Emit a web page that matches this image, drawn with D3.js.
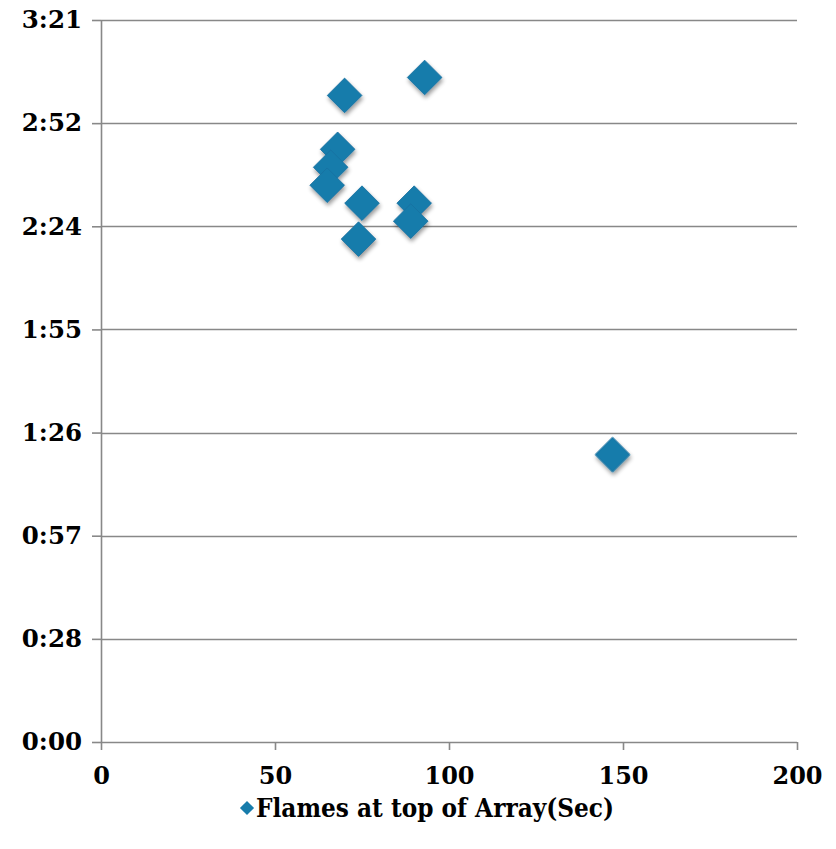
<!DOCTYPE html>
<html><head><meta charset="utf-8">
<script src="https://cdn.jsdelivr.net/npm/d3@7"></script>
<style>
html,body{margin:0;padding:0;background:#fff;}
svg{display:block;}
text{font-family:"DejaVu Serif",serif;font-weight:bold;fill:#000;}
</style></head>
<body>
<svg id="chart" width="836" height="849"></svg>
<script>
// Data (x: value, y: seconds)
const xValues = [93, 70, 68, 66, 65, 75, 90, 89, 74, 147];
const yValues = [185, 180, 165, 160, 155, 150, 150, 145, 140, 80];
const seriesName = "Flames at top of Array(Sec)";
const xTicks = [0, 50, 100, 150, 200];
const yTickLabels = ["0:00", "0:28", "0:57", "1:26", "1:55", "2:24", "2:52", "3:21"];
const yMax = 201;

const svg = d3.select("#chart");
const mLeft = 101, mRight = 797, mTop = 20, mBottom = 742;
const x = d3.scaleLinear().domain([0, 200]).range([mLeft, mRight]);
const y = d3.scaleLinear().domain([0, yMax]).range([mBottom, mTop]);
const yTicks = yTickLabels.map((d, i) => i * yMax / (yTickLabels.length - 1));

const defs = svg.append("defs");
const f = defs.append("filter").attr("id", "sh").attr("x", "-50%").attr("y", "-50%").attr("width", "200%").attr("height", "200%");
f.append("feGaussianBlur").attr("in", "SourceAlpha").attr("stdDeviation", 2.2).attr("result", "b");
f.append("feOffset").attr("in", "b").attr("dx", 1).attr("dy", 3).attr("result", "o");
f.append("feComponentTransfer").attr("in", "o").attr("result", "o2").append("feFuncA").attr("type", "linear").attr("slope", 0.4);
const m = f.append("feMerge");
m.append("feMergeNode").attr("in", "o2");
m.append("feMergeNode").attr("in", "SourceGraphic");

const grid = "#888888";
const fontFam = "DejaVu Serif";
// gridlines
svg.append("g").selectAll("line").data(yTicks.slice(1)).join("line")
  .attr("x1", mLeft).attr("x2", mRight)
  .attr("y1", d => Math.round(y(d)) + 0.5).attr("y2", d => Math.round(y(d)) + 0.5)
  .attr("stroke", grid).attr("stroke-width", 1.6);

// y axis
const yAxis = svg.append("g").attr("transform", `translate(${mLeft},0)`)
  .call(d3.axisLeft(y).tickValues(yTicks).tickFormat((d, i) => yTickLabels[i]).tickSize(9).tickPadding(10));
yAxis.attr("font-family", fontFam).attr("font-size", 24.5);
yAxis.select(".domain").attr("stroke", grid).attr("stroke-width", 1.6).attr("d", `M0.5,${mTop}V${mBottom}`);
yAxis.selectAll(".tick line").attr("stroke", grid).attr("stroke-width", 1.6);
yAxis.selectAll(".tick text").attr("font-weight", "bold").attr("fill", "#000");

// x axis
const xAxis = svg.append("g").attr("transform", `translate(0,${mBottom})`)
  .call(d3.axisBottom(x).tickValues(xTicks).tickSize(8).tickPadding(17));
xAxis.attr("font-family", fontFam).attr("font-size", 24);
xAxis.select(".domain").attr("stroke", grid).attr("stroke-width", 1.6).attr("d", `M${mLeft},0.5H${mRight}`);
xAxis.selectAll(".tick line").attr("stroke", grid).attr("stroke-width", 1.6);
xAxis.selectAll(".tick text").attr("font-weight", "bold").attr("fill", "#000");

// points
const pts = xValues.map((v, i) => ({x: v, y: yValues[i]}));
const sym = d3.symbol(d3.symbolSquare, 600);
svg.append("g").attr("filter", "url(#sh)").selectAll("path").data(pts).join("path")
  .attr("d", sym)
  .attr("transform", d => `translate(${x(d.x)},${y(d.y)}) rotate(45)`)
  .attr("fill", "#177cab").attr("stroke", "#1a70a0").attr("stroke-width", 0.8);

// legend
const lg = svg.append("g").attr("transform", "translate(247,808)");
lg.append("path").attr("d", d3.symbol(d3.symbolSquare, 100)).attr("transform", "rotate(45)").attr("fill", "#177cab");
lg.append("text").attr("x", 9).attr("y", 0).attr("dy", "0.36em").attr("font-size", 26)
  .attr("font-family", fontFam)
  .attr("textLength", 358).attr("lengthAdjust", "spacingAndGlyphs").text(seriesName);
</script>
</body></html>
